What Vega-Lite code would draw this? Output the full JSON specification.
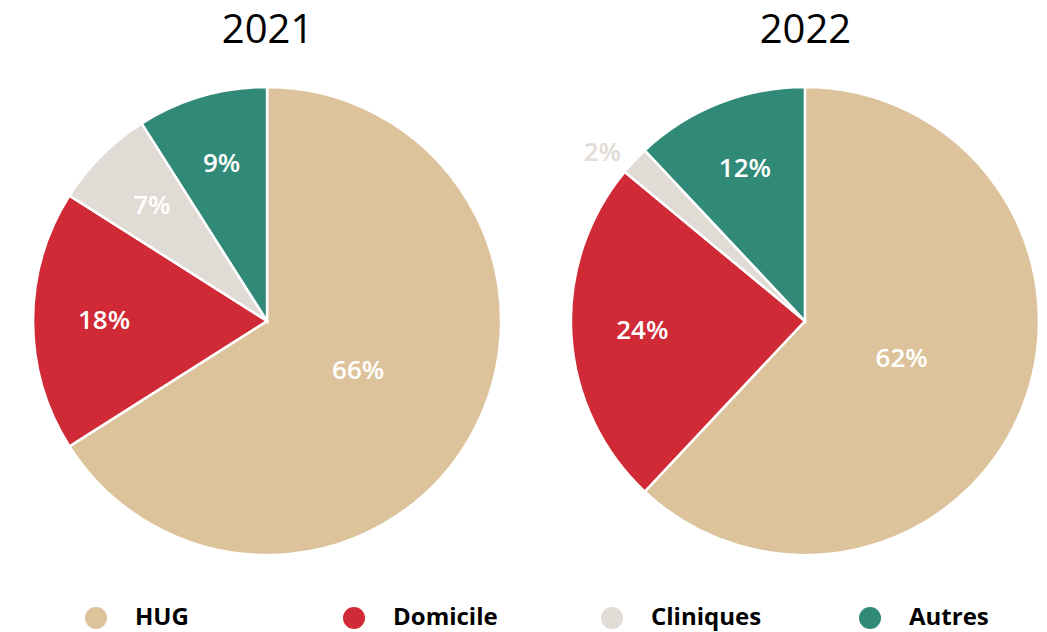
{
  "$schema": "https://vega.github.io/schema/vega-lite/v6.json",
  "background": "white",
  "width": 1047,
  "height": 632,
  "autosize": {"type": "fit", "contains": "padding"},
  "padding": {"left": 25, "right": 0, "top": 10, "bottom": 54},
  "data": {"values": [
    {"year": "2021", "cat": "HUG", "value": 0.66},
    {"year": "2021", "cat": "Domicile", "value": 0.18},
    {"year": "2021", "cat": "Cliniques", "value": 0.07},
    {"year": "2021", "cat": "Autres", "value": 0.09},
    {"year": "2022", "cat": "HUG", "value": 0.62},
    {"year": "2022", "cat": "Domicile", "value": 0.24},
    {"year": "2022", "cat": "Cliniques", "value": 0.02},
    {"year": "2022", "cat": "Autres", "value": 0.12}
  ]},
  "encoding": {
    "x": {
      "field": "year", "type": "nominal",
      "scale": {"type": "point", "padding": 0.45},
      "axis": {"orient": "top", "title": null, "domain": false, "ticks": false, "labelAngle": 0,
               "labelFontSize": 40, "labelFont": "Open Sans", "labelColor": "black", "labelPadding": 14}
    }
  },
  "layer": [
    {
      "transform": [
        {"stack": "value", "groupby": ["year"], "sort": [{"field": "cat", "order": "descending"}], "as": ["v0", "v1"]}
      ],
      "mark": {"type": "arc", "outerRadius": 234, "stroke": "white", "strokeWidth": 2.5},
      "encoding": {
        "theta": {"field": "v0", "type": "quantitative", "scale": {"domain": [0, 1]}},
        "theta2": {"field": "v1"},
        "color": {
          "field": "cat", "type": "nominal",
          "scale": {"domain": ["HUG", "Domicile", "Cliniques", "Autres"], "range": ["#dcc39c", "#d02a36", "#e1dbd6", "#318a78"]},
          "legend": {
            "title": null, "orient": "none", "legendX": 59, "legendY": 542,
            "direction": "horizontal", "columns": 4, "gridAlign": "all",
            "symbolType": "circle", "symbolSize": 484, "symbolStrokeWidth": 0,
            "labelFontSize": 24, "labelFontWeight": "bold", "labelFont": "Open Sans", "labelColor": "black",
            "labelOffset": 27, "columnPadding": 96
          }
        }
      }
    },
    {
      "transform": [{"filter": "datum.year === '2021'"}],
      "encoding": {
        "theta": {"field": "value", "type": "quantitative", "stack": true},
        "order": {"field": "cat", "sort": "descending"}
      },
      "layer": [
        {
          "mark": {"type": "text", "radius": 104, "font": "Open Sans", "fontSize": 26, "fontWeight": 600, "fill": "white"},
          "encoding": {"text": {"condition": {"test": "datum.cat === 'HUG'", "field": "value", "type": "quantitative", "format": ".0%"}, "value": ""}}
        },
        {
          "mark": {"type": "text", "radius": 163, "font": "Open Sans", "fontSize": 26, "fontWeight": 600, "fill": "white"},
          "encoding": {"text": {"condition": {"test": "datum.cat !== 'HUG'", "field": "value", "type": "quantitative", "format": ".0%"}, "value": ""}}
        }
      ]
    },
    {
      "transform": [{"filter": "datum.year === '2022'"}],
      "encoding": {
        "theta": {"field": "value", "type": "quantitative", "stack": true},
        "order": {"field": "cat", "sort": "descending"}
      },
      "layer": [
        {
          "mark": {"type": "text", "radius": 104, "font": "Open Sans", "fontSize": 26, "fontWeight": 600, "fill": "white"},
          "encoding": {"text": {"condition": {"test": "datum.cat === 'HUG'", "field": "value", "type": "quantitative", "format": ".0%"}, "value": ""}}
        },
        {
          "mark": {"type": "text", "radius": 163, "font": "Open Sans", "fontSize": 26, "fontWeight": 600, "fill": "white"},
          "encoding": {"text": {"condition": {"test": "datum.cat === 'Domicile' || datum.cat === 'Autres'", "field": "value", "type": "quantitative", "format": ".0%"}, "value": ""}}
        }
      ]
    },
    {
      "transform": [
        {"stack": "value", "groupby": ["year"], "sort": [{"field": "cat", "order": "descending"}], "as": ["v0", "v1"]},
        {"filter": "datum.cat === 'Cliniques' && datum.year === '2022'"}
      ],
      "mark": {"type": "text", "radius": 263, "font": "Open Sans", "fontSize": 26, "fontWeight": 600, "fill": "#e1dbd6"},
      "encoding": {
        "theta": {"field": "v0", "type": "quantitative"},
        "text": {"field": "value", "type": "quantitative", "format": ".0%"}
      }
    }
  ],
  "config": {"view": {"stroke": null}}
}
